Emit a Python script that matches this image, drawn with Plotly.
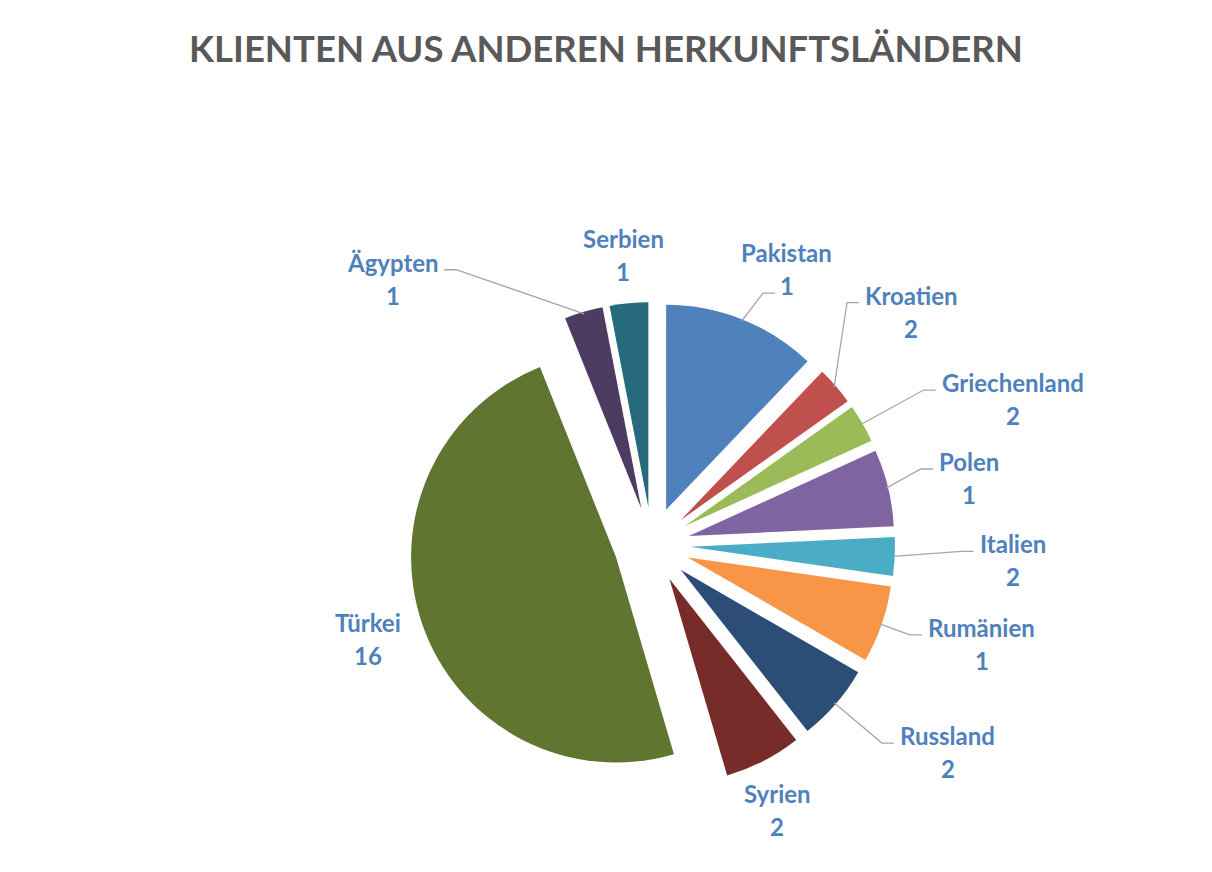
import math
import plotly.graph_objects as go

# ---------------- data ----------------
countries = ["Pakistan", "Kroatien", "Griechenland", "Polen", "Italien", "Rumänien",
             "Russland", "Syrien", "Türkei", "Ägypten", "Serbien"]
slice_values = [4, 1, 1, 2, 1, 2, 2, 2, 16, 1, 1]        # slice sizes as drawn
label_values = [1, 2, 2, 1, 2, 1, 2, 2, 16, 1, 1]        # numbers printed in the labels
title_text = "KLIENTEN AUS ANDEREN HERKUNFTSLÄNDERN"

# ---------------- style ----------------
colors = ["#4F81BD", "#C0504D", "#9BBB59", "#8064A2", "#4BACC6", "#F79646",
          "#2C4D75", "#772C2A", "#5F7530", "#4D3B62", "#276A7C"]
label_color = "#4F81BD"
leader_color = "#A6A6A6"
FONT = "Lato"
LABEL_SIZE = 24

# label placement (distance in pie radii, angular nudge in degrees)
label_dist = [1.50, 1.70, 1.90, 1.58, 1.76, 1.68, 1.76, 1.43, 1.46, 1.81, 1.42]
label_shift = [4.2, -1.1, 8.0, 1.7, -0.3, -2.4, -5.9, 2.0, 0.7, -27.8, -0.2]
show_leader = [True, True, True, True, True, True, True, False, False, True, False]
attach_value = [True, False, False, False, False, False, False, False, False, False, False]

# page body has an 8px margin: figure fills the window inside it
OFF = 8
W, H = 1212 - 2 * OFF, 872 - 2 * OFF
M_L, M_R, M_T, M_B = 144, 52, 294, 76
PULL = 0.185
plot_w = W - M_L - M_R
plot_h = H - M_T - M_B
R = min(plot_w, plot_h) / 2 / (1 + PULL)
CX = OFF + M_L + plot_w / 2          # page coords
CY = OFF + M_T + plot_h / 2


def to_paper(px, py):
    """page pixel -> paper coords"""
    fx, fy = px - OFF, py - OFF
    return (fx - M_L) / plot_w, 1 - (fy - M_T) / plot_h


CW = {"a": .53, "b": .58, "c": .47, "d": .58, "e": .54, "g": .52, "h": .58, "i": .27,
      "k": .54, "l": .27, "m": .87, "n": .58, "o": .58, "p": .58, "r": .39, "s": .44,
      "t": .37, "u": .58, "y": .53, "ä": .53, "ü": .58, "P": .62, "K": .66, "G": .72,
      "S": .52, "T": .59, "R": .64, "Ä": .70, "I": .29}


def text_w(s, size):
    return sum(CW.get(ch, .58) for ch in s) * size


total = sum(slice_values)
mids = []
acc = 0
for v in slice_values:
    mids.append((acc + v / 2) / total * 360)
    acc += v

fig = go.Figure(go.Pie(
    labels=countries, values=slice_values, sort=False, direction="clockwise",
    rotation=0, pull=[PULL] * len(slice_values),
    marker=dict(colors=colors, line=dict(width=0)),
    textinfo="none", hoverinfo="label+value", showlegend=False,
    domain=dict(x=[0, 1], y=[0, 1]),
))

annotations = []
shapes = []
for i, name in enumerate(countries):
    a = math.radians(mids[i] + label_shift[i])
    d = label_dist[i] * R
    lx = CX + d * math.sin(a)
    ly = CY - d * math.cos(a)
    name_y = ly - 16.5
    val_y = ly + 16.5
    for txt, yy in ((name, name_y), (str(label_values[i]), val_y)):
        px, py = to_paper(lx, yy)
        annotations.append(dict(x=px, y=py, xref="paper", yref="paper",
                                text="<b>" + txt + "</b>",
                                showarrow=False, xanchor="center", yanchor="middle",
                                font=dict(family=FONT, size=LABEL_SIZE, color=label_color)))
    if show_leader[i]:
        m = math.radians(mids[i])
        sx = CX + (R * (1 + PULL) - 2) * math.sin(m)
        sy = CY - (R * (1 + PULL) - 2) * math.cos(m)
        if attach_value[i]:
            w = text_w(str(label_values[i]), LABEL_SIZE)
            ya = val_y + 8
        else:
            w = text_w(name, LABEL_SIZE)
            ya = name_y + 7.5
        if lx >= sx:
            edge = lx - w / 2
            p1, p2 = edge - 17, edge - 5
        else:
            edge = lx + w / 2
            p1, p2 = edge + 17, edge + 5
        pts = [to_paper(sx, sy), to_paper(p1, ya), to_paper(p2, ya)]
        path = "M {} {} L {} {} L {} {}".format(*[c for p in pts for c in p])
        shapes.append(dict(type="path", path=path, xref="paper", yref="paper",
                           line=dict(color=leader_color, width=1.3)))

fig.update_layout(
    width=W, height=H,
    margin=dict(l=M_L, r=M_R, t=M_T, b=M_B, pad=0),
    paper_bgcolor="white", plot_bgcolor="white",
    title=dict(text="<b>" + title_text + "</b>", x=0.5, xanchor="center", xref="container",
               y=1 - (49 - OFF) / H, yanchor="middle", yref="container",
               font=dict(family=FONT, size=36.5, color="#595959")),
    annotations=annotations, shapes=shapes,
)

fig.write_html("out.html")
